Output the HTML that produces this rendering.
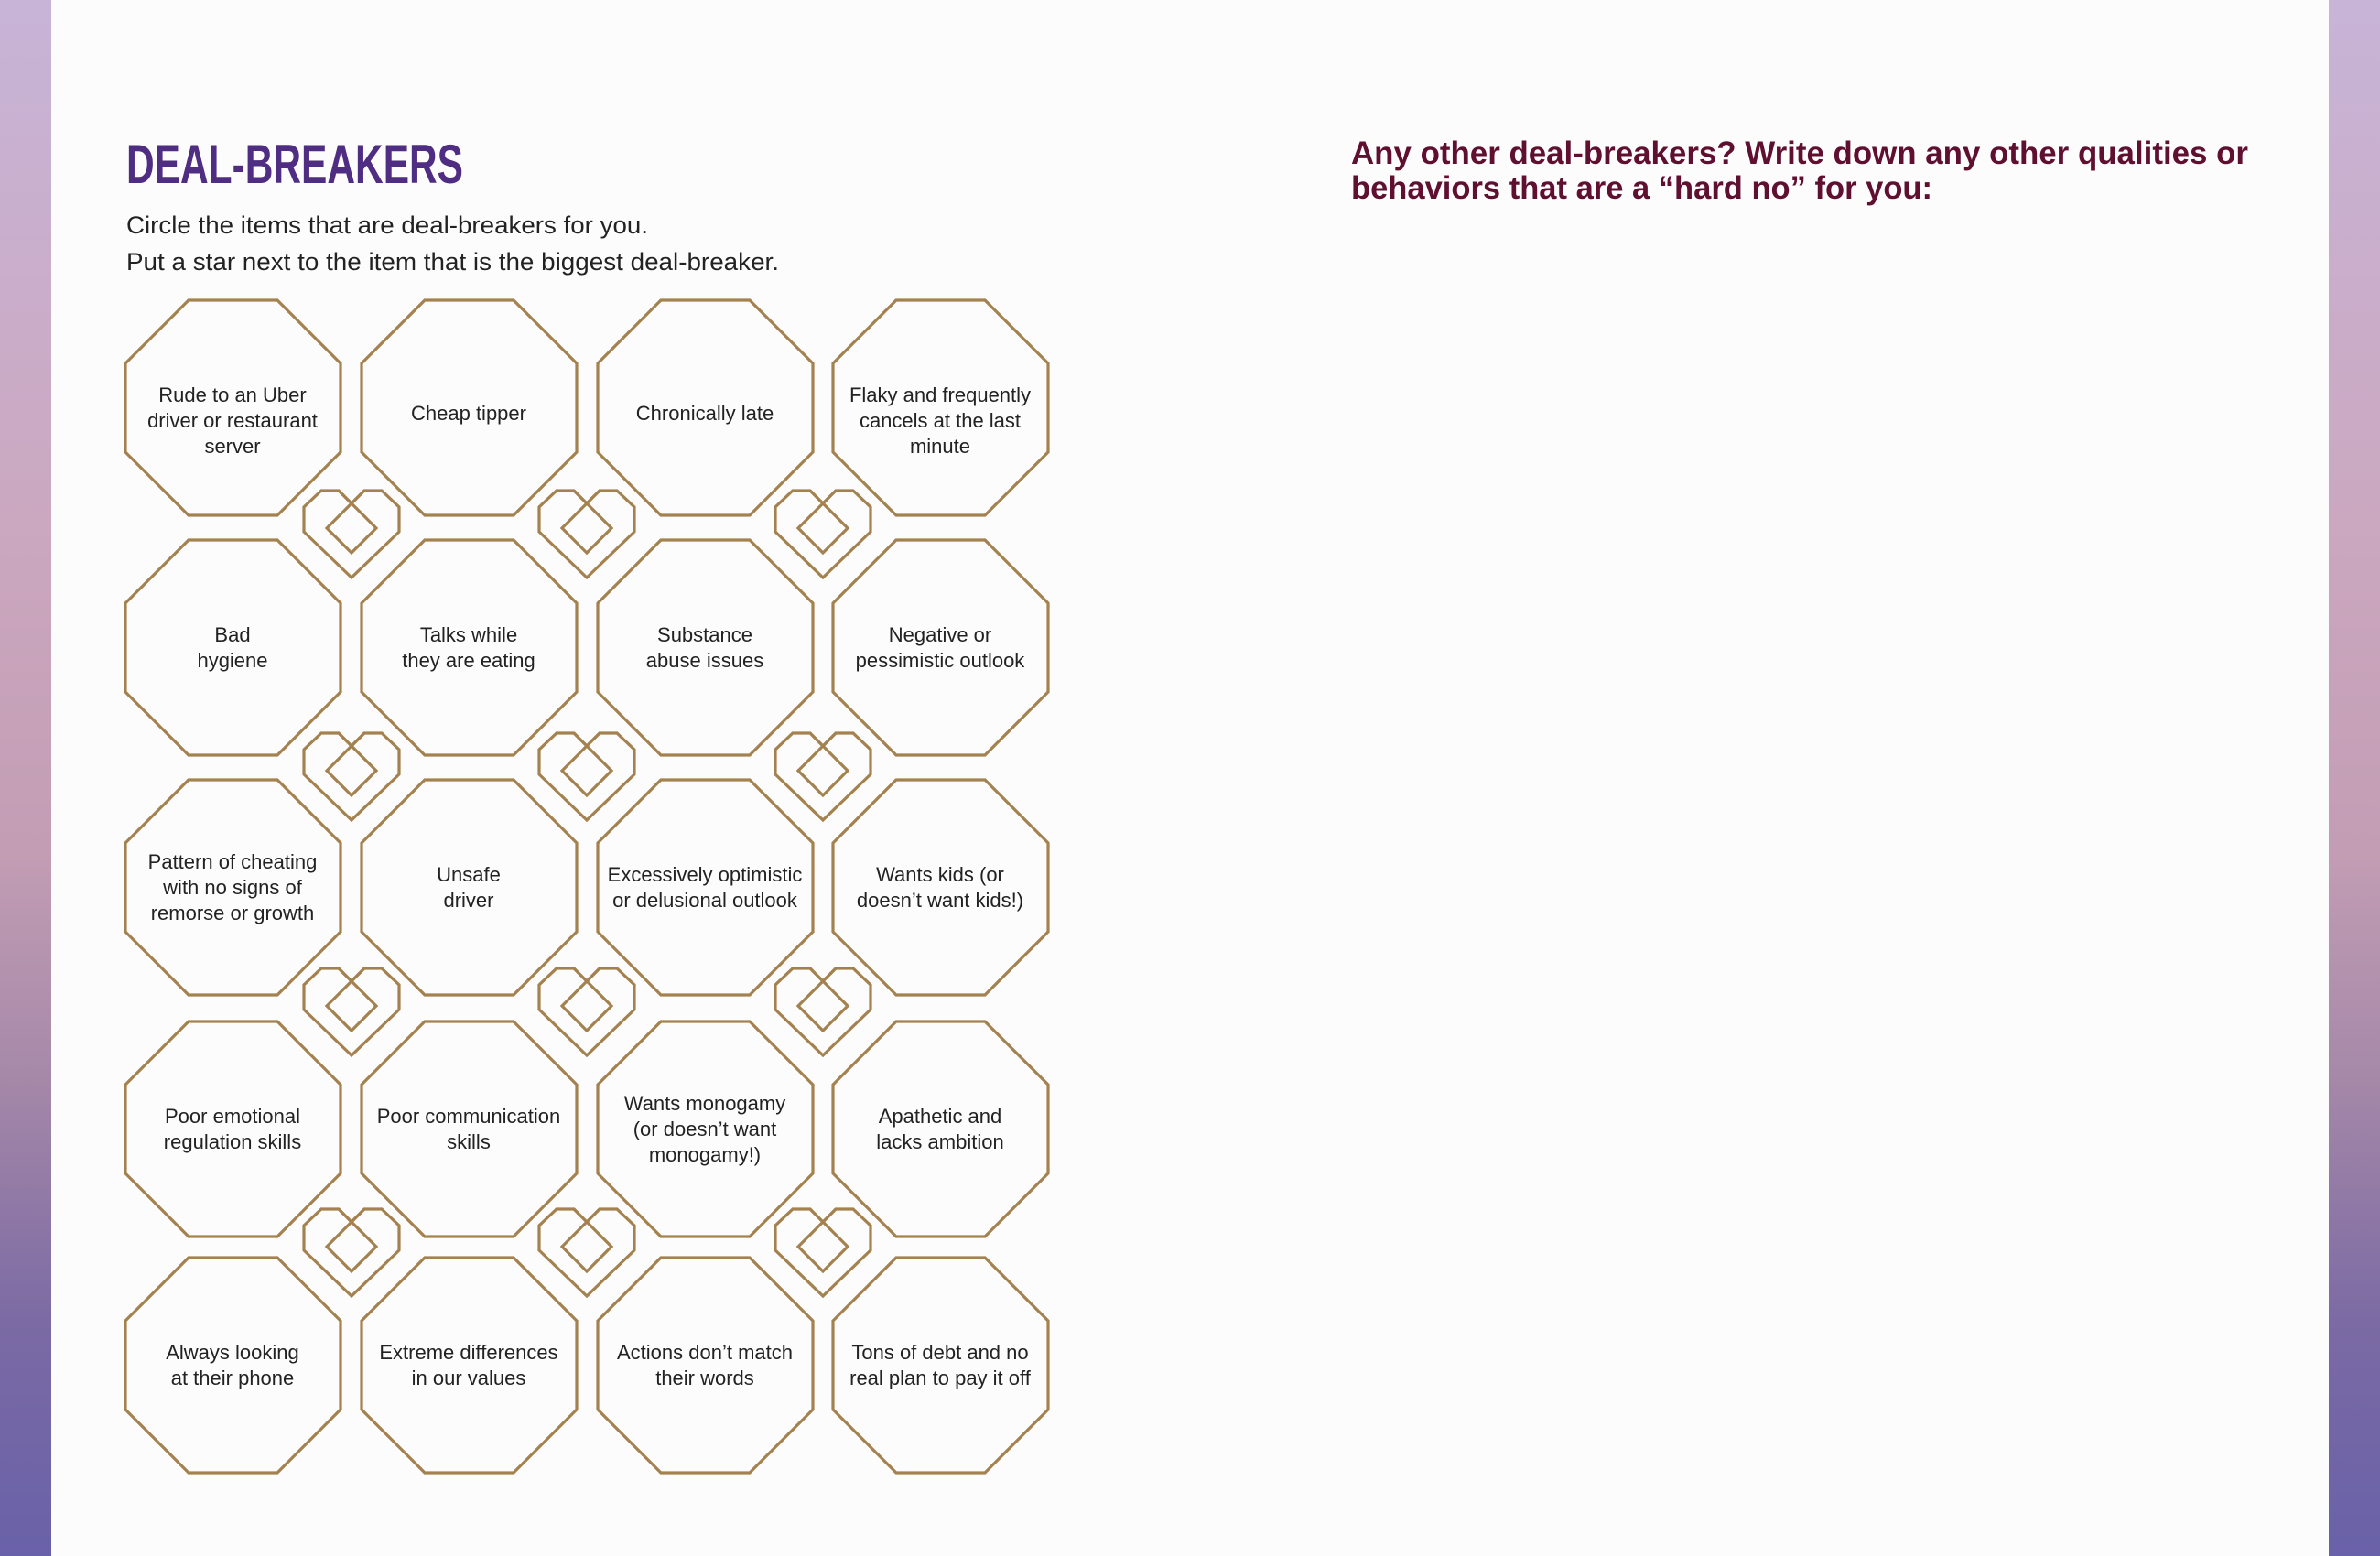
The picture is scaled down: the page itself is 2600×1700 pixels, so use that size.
<!DOCTYPE html>
<html><head><meta charset="utf-8"><style>
html,body{margin:0;padding:0;background:#fdfcfd;}
svg{display:block}
</style></head><body>
<svg width="2600" height="1700" viewBox="0 0 2600 1700" xmlns="http://www.w3.org/2000/svg">
<defs>
<linearGradient id="bar" x1="0" y1="0" x2="0" y2="1">
<stop offset="0" stop-color="#c8b4d7"/>
<stop offset="0.35" stop-color="#cba7bf"/>
<stop offset="0.55" stop-color="#c29db4"/>
<stop offset="0.7" stop-color="#a487a8"/>
<stop offset="0.85" stop-color="#7b6aa4"/>
<stop offset="1" stop-color="#6961a9"/>
</linearGradient>
<polygon id="oct" points="69,0 166,0 235,69 235,166 166,235 69,235 0,166 0,69" fill="none" stroke="#a4824f" stroke-width="3.2"/>
<g id="heart" fill="none" stroke="#a4824f" stroke-width="3.2" stroke-linejoin="miter">
<polygon points="0,95 -52,45 -52,18 -33,0 -14,0 0,14 14,0 33,0 52,18 52,45"/>
<polyline points="-14,0 27,41 0,68 -27,41 14,0"/>
</g>
</defs>
<rect width="2600" height="1700" fill="#fdfcfd"/>
<rect x="0" y="0" width="56" height="1700" fill="url(#bar)"/>
<rect x="2544" y="0" width="56" height="1700" fill="url(#bar)"/>

<text x="138" y="200" font-family="Liberation Sans, sans-serif" font-weight="bold" font-size="60" fill="#4f2d82" textLength="368" lengthAdjust="spacingAndGlyphs">DEAL-BREAKERS</text>
<g font-family="Liberation Sans, sans-serif" font-size="27" fill="#222">
<text x="138" y="255" textLength="570" lengthAdjust="spacingAndGlyphs">Circle the items that are deal-breakers for you.</text>
<text x="138" y="295" textLength="713" lengthAdjust="spacingAndGlyphs">Put a star next to the item that is the biggest deal-breaker.</text>
</g>
<g font-family="Liberation Sans, sans-serif" font-weight="bold" font-size="35" fill="#5f0f2f">
<text x="1476" y="179" textLength="980" lengthAdjust="spacingAndGlyphs">Any other deal-breakers? Write down any other qualities or</text>
<text x="1476" y="217" textLength="635" lengthAdjust="spacingAndGlyphs">behaviors that are a “hard no” for you:</text>
</g>

<g>
<use href="#oct" x="137" y="328"/><use href="#oct" x="395" y="328"/><use href="#oct" x="653" y="328"/><use href="#oct" x="910" y="328"/>
<use href="#oct" x="137" y="590"/><use href="#oct" x="395" y="590"/><use href="#oct" x="653" y="590"/><use href="#oct" x="910" y="590"/>
<use href="#oct" x="137" y="852"/><use href="#oct" x="395" y="852"/><use href="#oct" x="653" y="852"/><use href="#oct" x="910" y="852"/>
<use href="#oct" x="137" y="1116"/><use href="#oct" x="395" y="1116"/><use href="#oct" x="653" y="1116"/><use href="#oct" x="910" y="1116"/>
<use href="#oct" x="137" y="1374"/><use href="#oct" x="395" y="1374"/><use href="#oct" x="653" y="1374"/><use href="#oct" x="910" y="1374"/>
</g>
<g>
<use href="#heart" x="384" y="536"/><use href="#heart" x="641" y="536"/><use href="#heart" x="899" y="536"/>
<use href="#heart" x="384" y="801"/><use href="#heart" x="641" y="801"/><use href="#heart" x="899" y="801"/>
<use href="#heart" x="384" y="1058"/><use href="#heart" x="641" y="1058"/><use href="#heart" x="899" y="1058"/>
<use href="#heart" x="384" y="1321"/><use href="#heart" x="641" y="1321"/><use href="#heart" x="899" y="1321"/>
</g>

<g font-family="Liberation Sans, sans-serif" font-size="22" fill="#222" text-anchor="middle">
<text x="254" y="439">Rude to an Uber<tspan x="254" dy="28">driver or restaurant</tspan><tspan x="254" dy="28">server</tspan></text>
<text x="512" y="459">Cheap tipper</text>
<text x="770" y="459">Chronically late</text>
<text x="1027" y="439">Flaky and frequently<tspan x="1027" dy="28">cancels at the last</tspan><tspan x="1027" dy="28">minute</tspan></text>

<text x="254" y="701">Bad<tspan x="254" dy="28">hygiene</tspan></text>
<text x="512" y="701">Talks while<tspan x="512" dy="28">they are eating</tspan></text>
<text x="770" y="701">Substance<tspan x="770" dy="28">abuse issues</tspan></text>
<text x="1027" y="701">Negative or<tspan x="1027" dy="28">pessimistic outlook</tspan></text>

<text x="254" y="949">Pattern of cheating<tspan x="254" dy="28">with no signs of</tspan><tspan x="254" dy="28">remorse or growth</tspan></text>
<text x="512" y="963">Unsafe<tspan x="512" dy="28">driver</tspan></text>
<text x="770" y="963">Excessively optimistic<tspan x="770" dy="28">or delusional outlook</tspan></text>
<text x="1027" y="963">Wants kids (or<tspan x="1027" dy="28">doesn’t want kids!)</tspan></text>

<text x="254" y="1227">Poor emotional<tspan x="254" dy="28">regulation skills</tspan></text>
<text x="512" y="1227">Poor communication<tspan x="512" dy="28">skills</tspan></text>
<text x="770" y="1213">Wants monogamy<tspan x="770" dy="28">(or doesn’t want</tspan><tspan x="770" dy="28">monogamy!)</tspan></text>
<text x="1027" y="1227">Apathetic and<tspan x="1027" dy="28">lacks ambition</tspan></text>

<text x="254" y="1485">Always looking<tspan x="254" dy="28">at their phone</tspan></text>
<text x="512" y="1485">Extreme differences<tspan x="512" dy="28">in our values</tspan></text>
<text x="770" y="1485">Actions don’t match<tspan x="770" dy="28">their words</tspan></text>
<text x="1027" y="1485">Tons of debt and no<tspan x="1027" dy="28">real plan to pay it off</tspan></text>
</g>
</svg>
</body></html>
